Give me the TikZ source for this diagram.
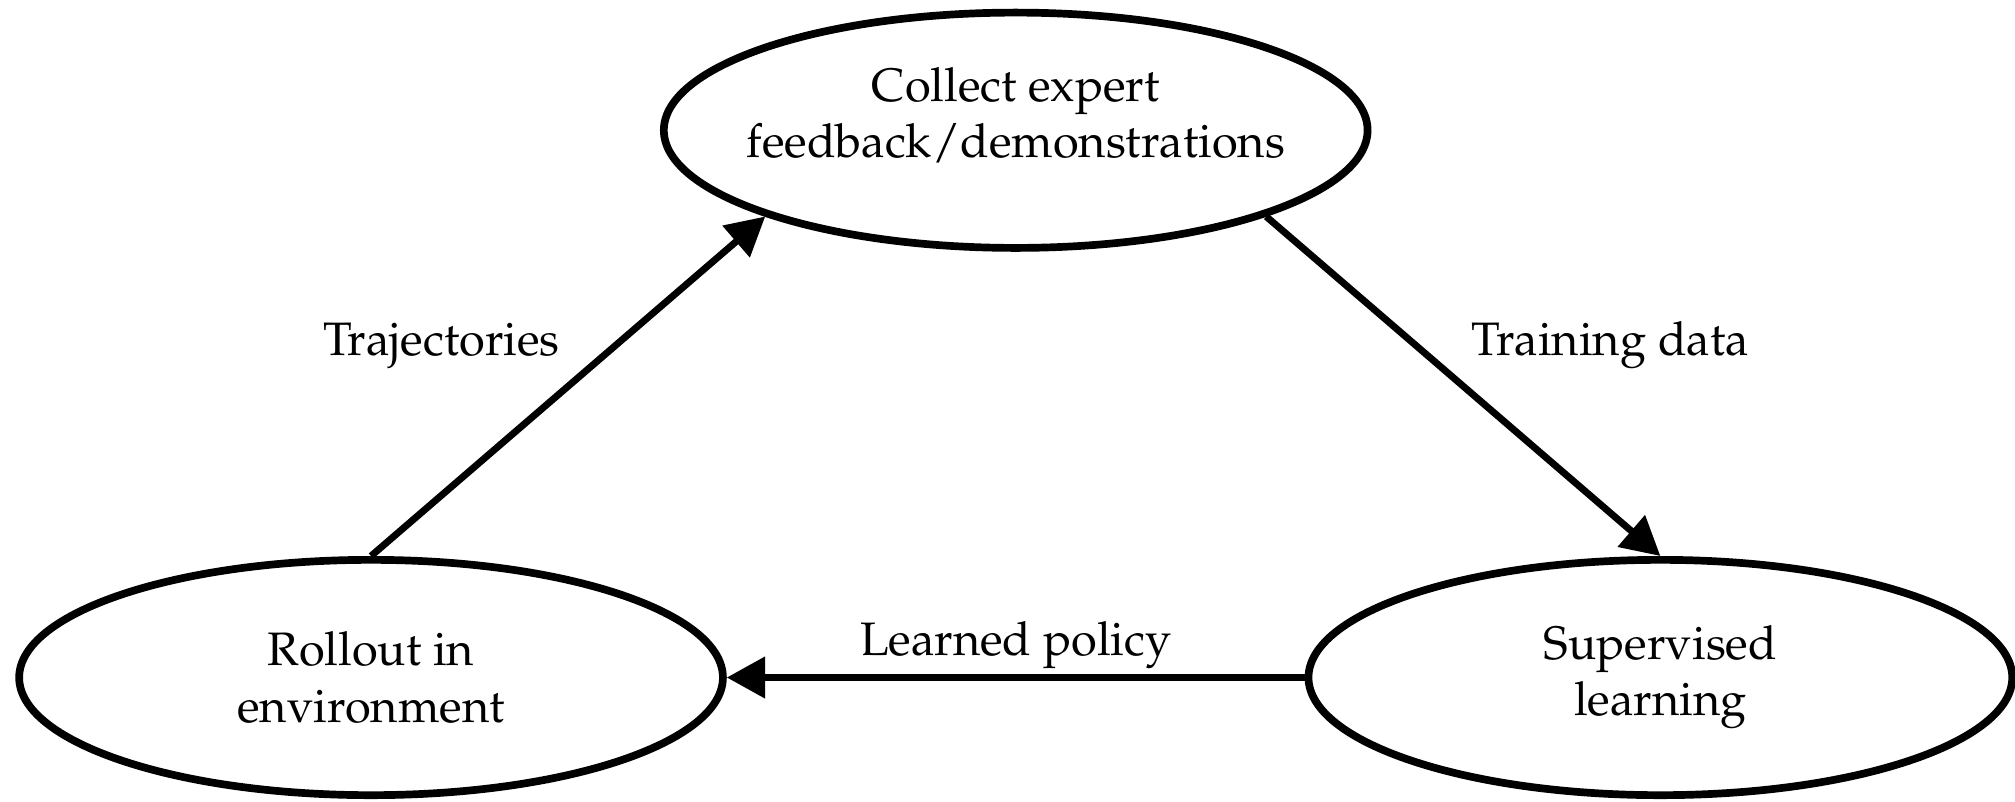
\documentclass[tikz,border=0pt]{standalone}
\usepackage[T1]{fontenc}
\usepackage{mathpazo}
\usetikzlibrary{shapes.geometric,positioning,arrows.meta}

\begin{document}
\begin{tikzpicture}[%
    >={Triangle[length=10pt,width=10.5pt]}, % solid heads
    node distance=5cm and 5.89cm,           % top step to the two lower ones
    every node/.style={font=\fontsize{12.2}{14.6}\selectfont},
    ]
\tikzset{
  stage/.style={draw, ellipse, on grid, line width=2pt, align=center,
    minimum width=6.43cm, minimum height=2.15cm, inner xsep=-5mm},
  flow/.style={->, line width=1.8pt},
}
\useasboundingbox (0,0) rectangle (18.41,7.32);

\node [stage,text depth=9pt] (collect) at (9.28,6.13) {Collect expert\\feedback/demonstrations};
\node [stage,below left=of collect] (rollout) {Rollout in\\environment};
\node [stage,below right=of collect] (supervised) {Supervised\\learning};

%connect
\draw [flow] (rollout.north) -- node [pos=0.52,above left,yshift=-1.5pt] {Trajectories} (collect.199);
\draw [flow] (collect.341) -- node [pos=0.48,above right,yshift=-1.5pt] {Training data} (supervised.north);
\draw [flow] (supervised.west) -- node [above,yshift=-2pt] {Learned policy} (rollout.east);

\end{tikzpicture}
\end{document}
